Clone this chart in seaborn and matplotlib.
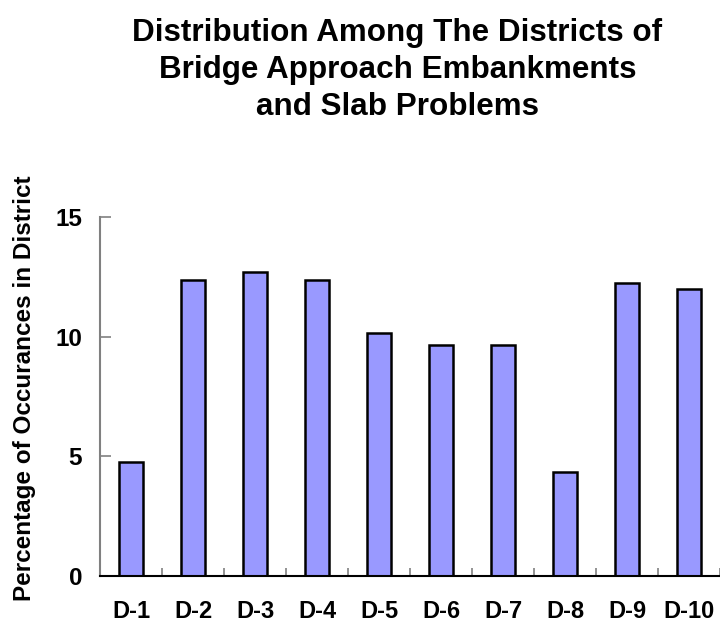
import matplotlib
matplotlib.use("Agg")
import matplotlib.pyplot as plt
import seaborn as sns
import pandas as pd
import numpy as np

# District share of bridge approach embankment and slab problems (%)
districts = ["D-1", "D-2", "D-3", "D-4", "D-5", "D-6", "D-7", "D-8", "D-9", "D-10"]
percentages = [4.75, 12.36, 12.70, 12.36, 10.17, 9.67, 9.67, 4.33, 12.26, 12.00]
y_ticks = [0, 5, 10, 15]

df = pd.DataFrame({"District": districts, "Percentage": percentages})

sns.set_theme(style="white")
plt.rcParams["font.family"] = ["Liberation Sans", "DejaVu Sans"]
plt.rcParams["text.color"] = "black"
plt.rcParams["axes.labelcolor"] = "black"
plt.rcParams["xtick.labelcolor"] = "black"
plt.rcParams["ytick.labelcolor"] = "black"

fig = plt.figure(figsize=(7.2, 6.27), dpi=100)
ax = fig.add_axes([0.139, 0.0813, 0.861, 0.5727])

sns.barplot(data=df, x="District", y="Percentage", order=districts,
            color="#9999FF", saturation=1, width=0.39,
            edgecolor="black", linewidth=1.8, ax=ax)

ax.set_xlim(-0.5, len(districts) - 0.5)
ax.set_ylim(0, 15)
ax.set_yticks(y_ticks)
ax.set_yticklabels([str(t) for t in y_ticks], fontsize=17.5, fontweight="bold")
ax.set_xticklabels(districts, fontsize=17, fontweight="bold")

# Category separators as small inward ticks along the baseline
ax.set_xticks(np.arange(-0.5, len(districts), 1.0), minor=True)
ax.tick_params(axis="x", which="major", length=0, pad=17)
ax.tick_params(axis="x", which="minor", direction="in", length=6,
               width=1.2, color="#808080", bottom=True)
ax.tick_params(axis="y", which="major", direction="in", length=8,
               width=1.2, color="#808080", left=True, pad=13)

for side in ["top", "right"]:
    ax.spines[side].set_visible(False)
ax.spines["left"].set_color("#808080")
ax.spines["left"].set_linewidth(1.5)
ax.spines["bottom"].set_color("black")
ax.spines["bottom"].set_linewidth(1.5)

ax.set_xlabel("")
ax.set_ylabel("Percentage of Occurances in District", fontsize=17.5,
              fontweight="bold")
ax.yaxis.set_label_coords(-0.103, 0.524)

fig.text(0.552, 0.971,
         "Distribution Among The Districts of\nBridge Approach Embankments\nand Slab Problems",
         ha="center", va="top", fontsize=22.6, fontweight="bold",
         linespacing=1.3)

fig.savefig("out.png", dpi=100, facecolor="white")
